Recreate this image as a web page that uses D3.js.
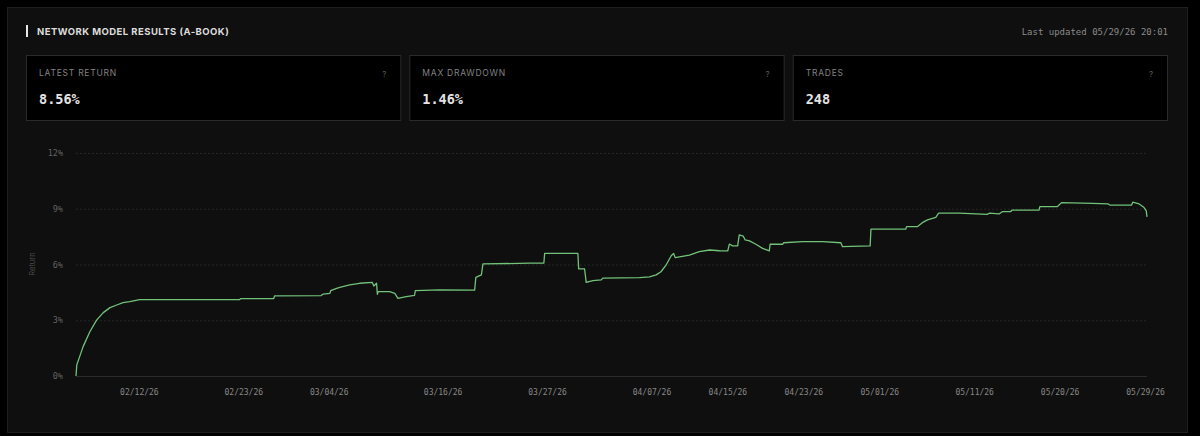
<!DOCTYPE html>
<html>
<head>
<meta charset="utf-8">
<script src="https://cdn.jsdelivr.net/npm/d3@7"></script>
<style>
  body { margin: 0; background: #000; }
</style>
</head>
<body>
<div id="vis"></div>
<script>
// values
const dates = [
    "2026-02-05 09:00", "2026-02-05 11:00", "2026-02-06 03:00", "2026-02-06 20:00", "2026-02-07 13:00",
    "2026-02-08 06:00", "2026-02-08 23:00", "2026-02-09 16:00", "2026-02-10 08:00", "2026-02-11 01:00",
    "2026-02-12 02:00", "2026-02-22 15:00", "2026-02-22 17:00", "2026-02-26 05:00", "2026-02-26 07:00",
    "2026-03-03 05:00", "2026-03-03 10:00", "2026-03-04 03:00", "2026-03-04 05:00", "2026-03-04 20:00",
    "2026-03-05 04:00", "2026-03-06 05:00", "2026-03-07 06:00", "2026-03-08 14:00", "2026-03-08 18:00",
    "2026-03-09 01:00", "2026-03-09 03:00", "2026-03-09 05:00", "2026-03-10 10:00", "2026-03-10 23:00",
    "2026-03-11 07:00", "2026-03-12 04:00", "2026-03-13 01:00", "2026-03-13 03:00", "2026-03-15 16:00",
    "2026-03-19 09:00", "2026-03-19 12:00", "2026-03-20 02:00", "2026-03-20 06:00", "2026-03-25 04:00",
    "2026-03-26 16:00", "2026-03-26 18:00", "2026-03-30 06:00", "2026-03-30 08:00", "2026-03-30 23:00",
    "2026-03-31 03:00", "2026-03-31 20:00", "2026-04-01 17:00", "2026-04-01 21:00", "2026-04-05 18:00",
    "2026-04-06 19:00", "2026-04-07 12:00", "2026-04-08 00:00", "2026-04-08 13:00", "2026-04-09 02:00",
    "2026-04-09 08:00", "2026-04-09 12:00", "2026-04-11 00:00", "2026-04-12 01:00", "2026-04-13 03:00",
    "2026-04-14 04:00", "2026-04-15 01:00", "2026-04-15 05:00", "2026-04-15 13:00", "2026-04-16 02:00",
    "2026-04-16 06:00", "2026-04-16 16:00", "2026-04-16 21:00", "2026-04-17 08:00", "2026-04-18 00:00",
    "2026-04-18 17:00", "2026-04-19 10:00", "2026-04-19 12:00", "2026-04-20 20:00", "2026-04-20 22:00",
    "2026-04-22 22:00", "2026-04-25 01:00", "2026-04-26 23:00", "2026-04-27 03:00", "2026-04-30 01:00",
    "2026-04-30 03:00", "2026-05-03 19:00", "2026-05-03 21:00", "2026-05-05 01:00", "2026-05-05 13:00",
    "2026-05-06 02:00", "2026-05-06 23:00", "2026-05-07 06:00", "2026-05-09 10:00", "2026-05-12 09:00",
    "2026-05-12 14:00", "2026-05-13 15:00", "2026-05-13 23:00", "2026-05-14 20:00", "2026-05-15 00:00",
    "2026-05-17 20:00", "2026-05-17 22:00", "2026-05-19 18:00", "2026-05-20 05:00", "2026-05-23 11:00",
    "2026-05-25 03:00", "2026-05-25 07:00", "2026-05-27 14:00", "2026-05-27 17:00", "2026-05-28 09:00",
    "2026-05-28 21:00", "2026-05-29 03:00", "2026-05-29 05:00"
];

const returns = [
    0.00, 0.60, 1.58, 2.38, 3.01,
    3.41, 3.68, 3.82, 3.95, 4.00,
    4.11, 4.11, 4.16, 4.17, 4.31,
    4.33, 4.41, 4.45, 4.59, 4.72,
    4.77, 4.90, 4.99, 5.04, 4.84,
    4.99, 4.40, 4.54, 4.54, 4.45,
    4.18, 4.27, 4.34, 4.59, 4.63,
    4.62, 5.31, 5.44, 6.03, 6.07,
    6.08, 6.60, 6.60, 5.76, 5.76,
    5.04, 5.13, 5.17, 5.27, 5.29,
    5.33, 5.44, 5.61, 5.97, 6.47,
    6.60, 6.37, 6.51, 6.69, 6.78,
    6.74, 6.73, 7.10, 7.00, 7.00,
    7.59, 7.53, 7.32, 7.27, 7.09,
    6.87, 6.73, 7.09, 7.09, 7.17,
    7.23, 7.23, 7.17, 6.96, 7.00,
    7.90, 7.90, 8.04, 8.04, 8.25,
    8.40, 8.54, 8.76, 8.76, 8.70,
    8.76, 8.72, 8.84, 8.84, 8.93,
    8.93, 9.11, 9.11, 9.33, 9.29,
    9.26, 9.20, 9.20, 9.35, 9.26,
    9.08, 8.90, 8.56
];

const xTicks = ["2026-02-12", "2026-02-23", "2026-03-04", "2026-03-16", "2026-03-27", "2026-04-07",
    "2026-04-15", "2026-04-23", "2026-05-01", "2026-05-11", "2026-05-20", "2026-05-29"];
const yTicks = [0, 3, 6, 9, 12];

const cardTitles = ["LATEST RETURN", "MAX DRAWDOWN", "TRADES"];
const cardValues = ["8.56%", "1.46%", "248"];

const sans = "Inter, 'Noto Sans', sans-serif";
const mono = "'DejaVu Sans Mono', monospace";

const svg = d3.select("#vis")
    .append('svg')
    .attr("width", 1200)
    .attr("height", 436);

// outer panel
svg.append('rect')
    .attr('x', 7.5)
    .attr('y', 7.5)
    .attr('width', 1180)
    .attr('height', 425)
    .attr('fill', '#0f0f0f')
    .attr('stroke', '#1f1f1f');

// header
svg.append('rect')
    .attr('x', 26)
    .attr('y', 25)
    .attr('width', 2)
    .attr('height', 12)
    .attr('fill', '#e6e6e6');

svg.append('text')
    .attr('x', 37)
    .attr('y', 35)
    .style('font-family', sans)
    .style('font-weight', 700)
    .style('font-size', '9.5px')
    .style('letter-spacing', '0.45px')
    .attr('fill', '#dcdcdc')
    .text("NETWORK MODEL RESULTS (A-BOOK)");

svg.append('text')
    .attr('x', 1168)
    .attr('y', 35)
    .attr('text-anchor', 'end')
    .style('font-family', mono)
    .style('font-size', '9px')
    .attr('fill', '#8a8a8a')
    .text("Last updated 05/29/26 20:01");

// stat cards
const cardX = d3.scaleBand()
    .domain(cardTitles)
    .range([26, 1168])
    .paddingInner(0.021);

const cards = svg.selectAll('g.card')
    .data(cardTitles)
    .enter()
    .append('g')
    .attr('class', 'card')
    .attr('transform', d => `translate(${cardX(d)},55)`);

cards.append('rect')
    .attr('x', 0.5)
    .attr('y', 0.5)
    .attr('width', cardX.bandwidth() - 1)
    .attr('height', 65)
    .attr('fill', '#000')
    .attr('stroke', '#2a2a2a');

cards.append('text')
    .attr('x', 13)
    .attr('y', 21)
    .style('font-family', sans)
    .style('font-size', '8.5px')
    .style('letter-spacing', '0.75px')
    .attr('fill', '#828282')
    .text(d => d);

cards.append('text')
    .attr('x', cardX.bandwidth() - 17)
    .attr('y', 22)
    .attr('text-anchor', 'middle')
    .style('font-family', sans)
    .style('font-size', '8px')
    .attr('fill', '#5a5a5a')
    .text("?");

cards.append('text')
    .attr('x', 13)
    .attr('y', 49)
    .style('font-family', mono)
    .style('font-weight', 700)
    .style('font-size', '13.5px')
    .attr('fill', '#e4e4e4')
    .text((d, i) => cardValues[i]);

// chart
const parseTime = d3.timeParse("%Y-%m-%d %H:%M");
const parseDay = d3.timeParse("%Y-%m-%d");
const data = dates.map((d, i) => ({ date: parseTime(d), value: returns[i] }));

const x = d3.scaleTime()
    .domain(d3.extent(data, d => d.date))
    .range([76, 1147]);

const y = d3.scaleLinear()
    .domain([0, 12])
    .range([376, 153]);

// dotted gridlines, baseline solid
svg.append('g')
    .selectAll('line')
    .data(yTicks)
    .enter()
    .append('line')
    .attr('x1', x.range()[0])
    .attr('x2', x.range()[1])
    .attr('y1', d => y(d) + 0.5)
    .attr('y2', d => y(d) + 0.5)
    .attr('stroke', d => d === 0 ? '#2b2b2b' : '#262626')
    .attr('stroke-dasharray', d => d === 0 ? null : '2,2');

const yAxis = svg.append('g')
    .attr('transform', 'translate(67,0)')
    .call(d3.axisLeft(y).tickValues(yTicks).tickSize(0).tickPadding(4).tickFormat(d => d + "%"));
yAxis.select('.domain').remove();
yAxis.selectAll('text')
    .style('font-family', mono)
    .style('font-size', '8.5px')
    .attr('fill', '#626262');

const xAxis = svg.append('g')
    .attr('transform', 'translate(0,376)')
    .call(d3.axisBottom(x).tickValues(xTicks.map(parseDay)).tickSize(0).tickPadding(13).tickFormat(d3.timeFormat("%m/%d/%y")));
xAxis.select('.domain').remove();
xAxis.selectAll('text')
    .style('font-family', mono)
    .style('font-size', '8px')
    .attr('fill', '#888');

svg.append('text')
    .attr('transform', 'translate(35,264) rotate(-90)')
    .attr('text-anchor', 'middle')
    .style('font-family', sans)
    .style('font-size', '7.5px')
    .attr('fill', '#4a4a4a')
    .text("Return");

// return line
const line = d3.line()
    .x(d => x(d.date))
    .y(d => y(d.value));

svg.append('path')
    .datum(data)
    .attr('d', line)
    .attr('fill', 'none')
    .attr('stroke', '#72c27a')
    .attr('stroke-width', 1.3)
    .attr('stroke-linejoin', 'round');
</script>
</body>
</html>
